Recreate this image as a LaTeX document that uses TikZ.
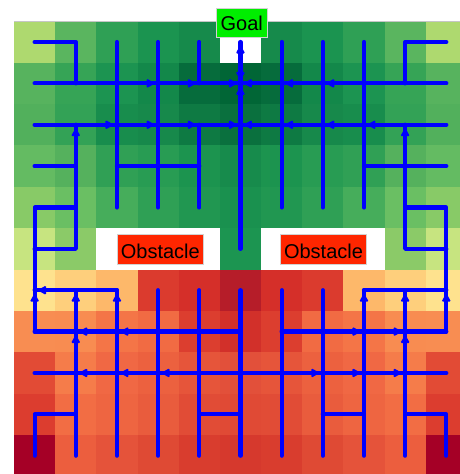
\documentclass[tikz,border=0pt]{standalone}
\usepackage{fontspec}
\setmainfont{Liberation Sans}
\usetikzlibrary{decorations.markings}
\definecolor{goalgreen}{HTML}{00EE00}
\definecolor{obsred}{HTML}{FF2600}
\definecolor{pathblue}{HTML}{0000FF}
\begin{document}
\begin{tikzpicture}[x=1pt,y=-1pt,
  bluepath/.style={draw=pathblue, line width=4.2pt, line cap=round, line join=round},
  headmark/.style={postaction={decorate}, decoration={markings,
      mark=at position -7.5pt with {\fill[pathblue, rounded corners=1.3pt]
        (4.5pt,0pt) -- (-4pt,4.8pt) -- (-4pt,-4.8pt) -- cycle;}}},
  tagbox/.style={draw=gray!35, line width=0.6pt, inner sep=0pt, text=black,
      font=\fontsize{20}{24}\selectfont}
]
\useasboundingbox (0,0) rectangle (460,474);
\clip (0,0) rectangle (460,474);
\fill[white] (0,0) rectangle (460,474);
% heat map cells
\foreach \rowlist [count=\j from 0] in {
 {AED96F,5AB55F,2FA055,1B9450,168A4B,FFFFFF,168A4B,1B9450,2FA055,5AB55F,AED96F},
 {57B35E,36A456,1C9451,13884A,066C3C,016636,066C3C,13884A,1C9451,36A456,57B35E},
 {52B05C,33A256,188D4D,17894B,0E7A43,0A703E,0E7A43,17894B,188D4D,33A256,52B05C},
 {64BB62,55B15D,30A055,289C53,1C944F,178B4C,1C944F,289C53,30A055,55B15D,64BB62},
 {88CA67,6ABF63,46AD5B,2FA055,219751,1A914F,219751,2FA055,46AD5B,6ABF63,88CA67},
 {C7E480,8BCA68,FFFFFF,FFFFFF,FFFFFF,1C9551,FFFFFF,FFFFFF,FFFFFF,8BCA68,C7E480},
 {FEE28E,FECF7C,FDB86A,DB3B2E,D52F29,B61D29,D52F29,DB3B2E,FDB86A,FECF7C,FEE28E},
 {F88D52,F88C51,F47547,F16B43,DC3E2F,D2302A,DC3E2F,F16B43,F47547,F88C51,F88D52},
 {E24B35,F57C4A,F06844,EC613F,E6553A,E2503A,E6553A,EC613F,F06844,F57C4A,E24B35},
 {DC3D2F,F26D44,EE6541,E95C3D,E14C36,E04A35,E14C36,E95C3D,EE6541,F26D44,DC3D2F},
 {A50026,EC5E3E,E5533A,DF4A34,D93D2E,D6392D,D93D2E,DF4A34,E5533A,EC5E3E,A50026}} {
  \foreach \hex [count=\i from 0] in \rowlist {
    \definecolor{cellc}{HTML}{\hex}
    \fill[cellc] ({14+\i*41.17},{21.3+\j*41.37}) rectangle ++(41.6,41.8);
  }
}
\draw[gray!45, line width=0.6pt] (14,21.3) -- (460,21.3);
% cell centres
\foreach \i in {0,...,10} {
  \foreach \j in {0,...,10} {
    \coordinate (n-\i-\j) at ({34.6+\i*41.17},{42+\j*41.37});
  }
}
% upper paths
\draw[bluepath] (n-0-0) -- (n-1-0) -- (n-1-1);
\draw[bluepath] (n-10-0) -- (n-9-0) -- (n-9-1);
\draw[bluepath] (n-0-1) -- (n-10-1);
\draw[bluepath] (n-0-2) -- (n-10-2);
\draw[bluepath] (n-2-0) -- (n-2-4);
\draw[bluepath] (n-3-0) -- (n-3-4);
\draw[bluepath] (n-4-0) -- (n-4-1);
\draw[bluepath] (n-4-2) -- (n-4-4);
\draw[bluepath] (n-5-0) -- (n-5-5);
\draw[bluepath] (n-6-0) -- (n-6-4);
\draw[bluepath] (n-7-0) -- (n-7-4);
\draw[bluepath] (n-8-0) -- (n-8-4);
\draw[bluepath] (n-0-3) -- (n-1-3);
\draw[bluepath] (n-2-3) -- (n-4-3);
\draw[bluepath] (n-8-3) -- (n-10-3);
\draw[bluepath] (n-1-2) -- (n-1-5) -- (n-0-5);
\draw[bluepath] (n-9-2) -- (n-9-5) -- (n-10-5);
\draw[bluepath] (n-1-4) -- (n-0-4) -- (n-0-7);
\draw[bluepath] (n-9-4) -- (n-10-4) -- (n-10-7);
% lower paths
\draw[bluepath] (n-0-6) -- (n-2-6);
\draw[bluepath] (n-8-6) -- (n-10-6);
\draw[bluepath] (n-0-7) -- (n-5-7);
\draw[bluepath] (n-6-7) -- (n-10-7);
\draw[bluepath] (n-0-8) -- (n-10-8);
\draw[bluepath] (n-1-9) -- (n-0-9) -- (n-0-10);
\draw[bluepath] (n-4-9) -- (n-5-9);
\draw[bluepath] (n-7-9) -- (n-8-9);
\draw[bluepath] (n-9-9) -- (n-10-9) -- (n-10-10);
\foreach \i in {1,...,9} {
  \draw[bluepath] (n-\i-6) -- (n-\i-10);
}
% arrow heads (upper part)
\foreach \a/\b in {2-1/3-1, 3-1/4-1, 8-1/7-1, 7-1/6-1,
                   4-1/5-1, 6-1/5-1, 5-2/5-1, 5-0/5-1, 5-1/5-0,
                   1-2/2-2, 2-2/3-2, 3-2/4-2, 4-2/5-2,
                   9-2/8-2, 8-2/7-2, 7-2/6-2, 6-2/5-2,
                   1-3/1-2, 9-3/9-2} {
  \path[headmark] (n-\a) -- (n-\b);
}
% arrow heads (lower part)
\foreach \a/\b in {1-6/0-6, 0-7/0-6, 1-7/1-6, 2-7/2-6,
                   8-7/8-6, 9-7/9-6, 10-7/10-6,
                   2-7/1-7, 3-7/2-7, 7-7/8-7, 8-7/9-7,
                   1-8/1-7, 9-8/9-7,
                   2-8/1-8, 3-8/2-8, 4-8/3-8,
                   8-8/9-8, 7-8/8-8, 6-8/7-8} {
  \path[headmark] (n-\a) -- (n-\b);
}
% labels
\node[tagbox, fill=goalgreen, minimum width=51pt, minimum height=29pt,
      text height=14.4pt, text depth=0pt] (goal) at (241.7,22.8) {Goal};
\node[tagbox, fill=obsred, minimum width=86pt, minimum height=30pt,
      text height=17.6pt, text depth=0pt] (obs1) at (160.3,249.2) {Obstacle};
\node[tagbox, fill=obsred, minimum width=86pt, minimum height=30pt,
      text height=17.6pt, text depth=0pt] (obs2) at (323.5,249.2) {Obstacle};
\end{tikzpicture}
\end{document}
